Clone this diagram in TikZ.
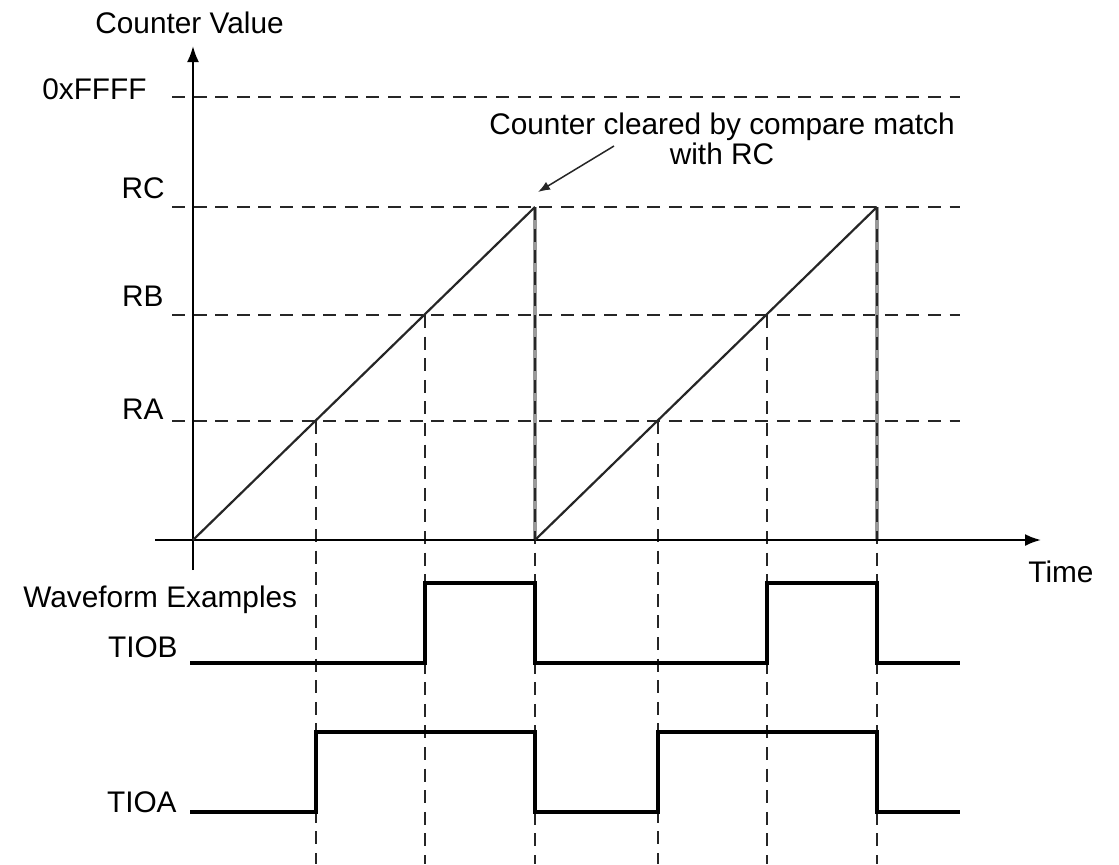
\documentclass[tikz,border=0pt]{standalone}
\usepackage{fontspec}
\setmainfont{Liberation Sans}
\usetikzlibrary{arrows.meta}
\begin{document}
\begin{tikzpicture}[x=0.5pt,y=-0.5pt,
  lbl/.style={font=\fontsize{14.9}{17}\selectfont, inner sep=0pt},
  guide/.style={line width=1.1pt, dash pattern=on 6.5pt off 4.3pt, black!85},
  axis/.style={line width=1.1pt, black},
  ramp/.style={line width=1.1pt, black!85},
  wave/.style={line width=1.9pt, black, line join=miter},
  clr/.style={line width=2pt, black!40},
  tip/.style={-{Latex[length=8pt,width=6pt]}},
  smalltip/.style={-{Latex[length=6pt,width=4.5pt]}, line width=0.75pt, black!85}]
\useasboundingbox (0,0) rectangle (1119,864);
% key points
\coordinate (O) at (193,540);
\coordinate (A1) at (316,421);
\coordinate (B1) at (425,315);
\coordinate (C1) at (535,207);
\coordinate (O2) at (535,540);
\coordinate (A2) at (658,421);
\coordinate (B2) at (767,315);
\coordinate (C2) at (877,207);
\coordinate (bot) at (0,864);
\coordinate (Lf) at (172,97);  \coordinate (Rf) at (960,97);
\coordinate (Lc) at (172,207); \coordinate (Rc) at (960,207);
\coordinate (Lb) at (172,315); \coordinate (Rb) at (960,315);
\coordinate (La) at (172,421); \coordinate (Ra) at (960,421);
\coordinate (yb) at (193,570); \coordinate (yt) at (193,46);
\coordinate (xl) at (155,540); \coordinate (xr) at (1041,540);
\coordinate (wbS) at (190,663); \coordinate (wbH) at (0,583); \coordinate (wbE) at (960,663);
\coordinate (waS) at (190,812); \coordinate (waH) at (0,732); \coordinate (waE) at (960,812);
% horizontal guides
\draw[guide] (Lf) -- (Rf);
\draw[guide] (Lc) -- (Rc);
\draw[guide] (Lb) -- (Rb);
\draw[guide] (La) -- (Ra);
% clearing lines
\draw[clr] (C1) -- (O2);
\draw[clr] (C2) -- (C2 |- O);
% vertical guides
\draw[guide] (A1) -- (A1 |- bot);
\draw[guide] (B1) -- (B1 |- bot);
\draw[guide] (C1) -- (C1 |- bot);
\draw[guide] (A2) -- (A2 |- bot);
\draw[guide] (B2) -- (B2 |- bot);
\draw[guide] (C2) -- (C2 |- bot);
% axes
\draw[axis,tip] (yb) -- (yt);
\draw[axis,tip] (xl) -- (xr);
% ramps
\draw[ramp] (O) -- (C1);
\draw[ramp] (O2) -- (C2);
% waveforms
\draw[wave] (wbS) -- (B1 |- wbS) -- (B1 |- wbH) -- (C1 |- wbH) -- (C1 |- wbS)
  -- (B2 |- wbS) -- (B2 |- wbH) -- (C2 |- wbH) -- (C2 |- wbS) -- (wbE);
\draw[wave] (waS) -- (A1 |- waS) -- (A1 |- waH) -- (C1 |- waH) -- (C1 |- waS)
  -- (A2 |- waS) -- (A2 |- waH) -- (C2 |- waH) -- (C2 |- waS) -- (waE);
% labels
\node[lbl, anchor=base west] (cv) at (95,33) {Counter Value};
\node[lbl, anchor=base east] (ff) at (147,99) {0xFFFF};
\node[lbl, anchor=base east] (rc) at (165,198) {RC};
\node[lbl, anchor=base east] (rb) at (164,306) {RB};
\node[lbl, anchor=base east] (ra) at (164,419) {RA};
\node[lbl, anchor=base west] (time) at (1028,582) {Time};
\node[lbl, anchor=base west] (we) at (23,607) {Waveform Examples};
\node[lbl, anchor=base east] (tiob) at (178,657) {TIOB};
\node[lbl, anchor=base east] (tioa) at (177,812) {TIOA};
\node[lbl, anchor=base] (ann) at (722,134) {Counter cleared by compare match};
\node[lbl, anchor=base] (ann2) at (722,164) {with RC};
\coordinate (annfrom) at (614,146);
\coordinate (annto) at (538,192);
\draw[smalltip] (annfrom) -- (annto);
\end{tikzpicture}
\end{document}
